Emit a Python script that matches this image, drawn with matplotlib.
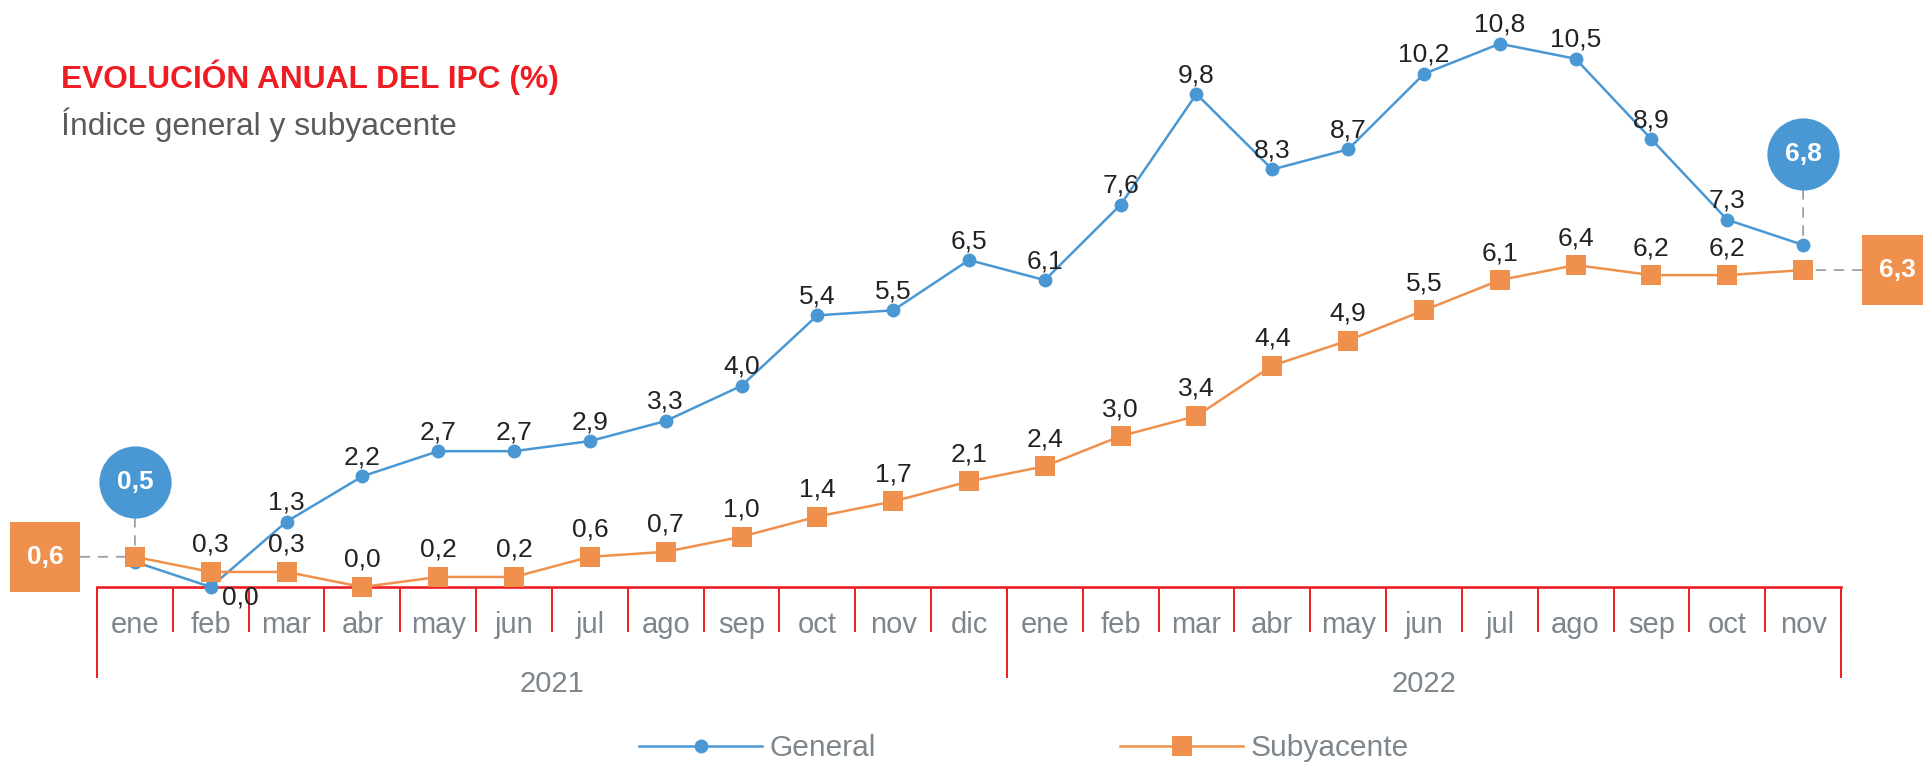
import numpy as np
import matplotlib.pyplot as plt
from matplotlib import transforms
from matplotlib.lines import Line2D

months = ["ene", "feb", "mar", "abr", "may", "jun", "jul", "ago", "sep", "oct", "nov", "dic",
          "ene", "feb", "mar", "abr", "may", "jun", "jul", "ago", "sep", "oct", "nov"]
years = ["2021", "2022"]
months_per_year = [12, 11]
general = [0.5, 0.0, 1.3, 2.2, 2.7, 2.7, 2.9, 3.3, 4.0, 5.4, 5.5, 6.5,
           6.1, 7.6, 9.8, 8.3, 8.7, 10.2, 10.8, 10.5, 8.9, 7.3, 6.8]
subyacente = [0.6, 0.3, 0.3, 0.0, 0.2, 0.2, 0.6, 0.7, 1.0, 1.4, 1.7, 2.1,
              2.4, 3.0, 3.4, 4.4, 4.9, 5.5, 6.1, 6.4, 6.2, 6.2, 6.3]

BLUE = "#4a98d3"
ORANGE = "#ef914c"
RED = "#ee1d23"
GRAY = "#7d868c"
DASH = "#9aa0a6"
INK = "#222222"

plt.rcParams["font.family"] = ["Liberation Sans", "DejaVu Sans"]

W, H = 1924, 765
fig = plt.figure(figsize=(W / 100, H / 100), dpi=100)
ax_h = 578.5
ax = fig.add_axes([97 / W, (H - 587) / H, 1744 / W, ax_h / H])
x = np.arange(len(months))
ax.set_xlim(-0.5, len(months) - 0.5)
ax.set_ylim(0, 11.5)
ax.set_xticks([])
ax.set_yticks([])
for s in ["top", "left", "right"]:
    ax.spines[s].set_visible(False)
ax.spines["bottom"].set_color(RED)
ax.spines["bottom"].set_linewidth(1.9)


def shifted(base, dx, dy):
    return transforms.offset_copy(base, fig=fig, x=dx, y=dy, units="dots")


def fmt(v):
    return f"{v:.1f}".replace(".", ",")


# series
ax.plot(x, general, color=BLUE, lw=1.8, marker="o", ms=10, mew=0, zorder=3, clip_on=False)
ax.plot(x, subyacente, color=ORANGE, lw=1.8, marker="s", ms=15, mew=0, zorder=4, clip_on=False)

# data labels
for i in range(1, len(months) - 1):
    if general[i] == 0.0:
        ax.annotate(fmt(general[i]), (x[i], general[i]), xytext=(11, -11), textcoords="offset pixels",
                    ha="left", va="center", fontsize=19, color=INK, zorder=7, annotation_clip=False)
    else:
        ax.annotate(fmt(general[i]), (x[i], general[i]), xytext=(0, 12), textcoords="offset pixels",
                    ha="center", va="baseline", fontsize=19, color=INK, zorder=7)
    ax.annotate(fmt(subyacente[i]), (x[i], subyacente[i]), xytext=(0, 20), textcoords="offset pixels",
                ha="center", va="baseline", fontsize=19, color=INK, zorder=7)

# callouts for first and last values
dash_kw = dict(arrowstyle="-", color=DASH, lw=1.3, linestyle=(0, (5, 5)), shrinkA=0, shrinkB=0)
for idx, lift in [(0, 80), (len(months) - 1, 91)]:
    xv, yv = x[idx], general[idx]
    ax.annotate("", xy=(xv, yv), xytext=(0, lift - 36), textcoords="offset pixels",
                arrowprops=dash_kw, zorder=1, annotation_clip=False)
    tr = shifted(ax.transData, 0, lift)
    ax.plot([xv], [yv], marker="o", ms=52, mew=0, color=BLUE, transform=tr, zorder=6, clip_on=False)
    ax.text(xv, yv, fmt(yv), transform=tr, ha="center", va="center", fontsize=19,
            fontweight="bold", color="white", zorder=7)

for idx, side in [(0, -90), (len(months) - 1, 94)]:
    xv, yv = x[idx], subyacente[idx]
    ax.annotate("", xy=(xv, yv), xytext=(side - np.sign(side) * 35.5, 0), textcoords="offset pixels",
                arrowprops=dash_kw, zorder=1, annotation_clip=False)
    tr = shifted(ax.transData, side, 0)
    ax.plot([xv], [yv], marker="s", ms=51, mew=0, color=ORANGE, transform=tr, zorder=6, clip_on=False)
    ax.text(xv, yv, fmt(yv), transform=tr, ha="center", va="center", fontsize=19,
            fontweight="bold", color="white", zorder=7)

# category axis: month boxes and years
xt = ax.get_xaxis_transform()
bounds = np.arange(len(months) + 1) - 0.5
ax.vlines(bounds, -45 / ax_h, 0, colors=RED, lw=1.4, transform=xt, clip_on=False)
year_edges = np.concatenate([[0], np.cumsum(months_per_year)]) - 0.5
ax.vlines(year_edges, -91 / ax_h, 0, colors=RED, lw=1.4, transform=xt, clip_on=False)
for i, m in enumerate(months):
    ax.text(i, 0, m, transform=shifted(xt, 0, -46), ha="center", va="baseline",
            fontsize=21, color=GRAY)
for k, yr in enumerate(years):
    mid = (year_edges[k] + year_edges[k + 1]) / 2
    ax.text(mid, 0, yr, transform=shifted(xt, 0, -105), ha="center", va="baseline",
            fontsize=21, color=GRAY)

# titles
fig.text(61 / W, 1 - 88 / H, "EVOLUCIÓN ANUAL DEL IPC (%)", fontsize=22.9, fontweight="bold",
         color=RED, ha="left", va="baseline")
fig.text(61 / W, 1 - 135 / H, "Índice general y subyacente", fontsize=22.9,
         color="#5a5a5a", ha="left", va="baseline")

# legend
handles = [Line2D([], [], color=BLUE, lw=1.8, marker="o", ms=10, mew=0),
           Line2D([], [], color=ORANGE, lw=1.8, marker="s", ms=15, mew=0)]
fig.legend(handles, ["General", "Subyacente"], loc="center", bbox_to_anchor=(1024 / W, 1 - 748 / H),
           ncol=2, frameon=False, fontsize=21.5, handlelength=4.1, handletextpad=0.25,
           columnspacing=8.2, labelcolor=GRAY, borderpad=0)

fig.savefig("out.png", dpi=100)
